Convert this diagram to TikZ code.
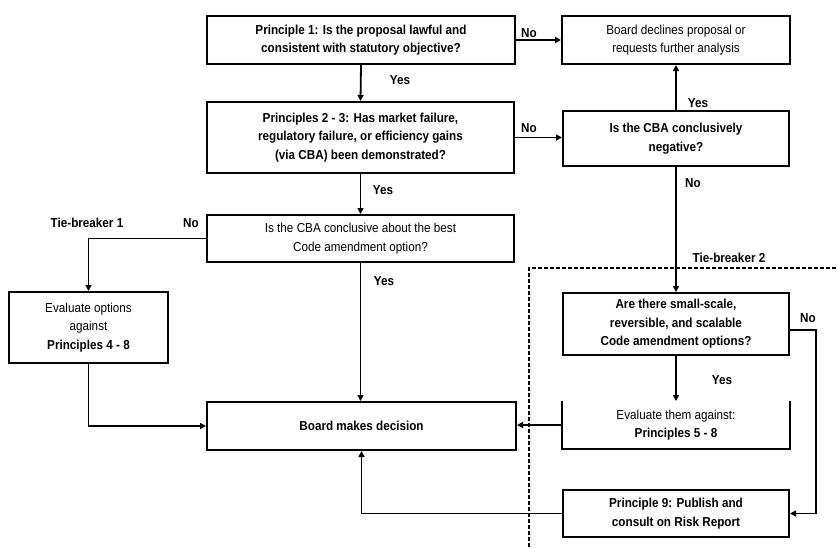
\documentclass[tikz,border=0pt]{standalone}
\usepackage{fontspec}
\setmainfont{Liberation Sans}[FakeStretch=0.9]
\usetikzlibrary{arrows.meta,calc}
\begin{document}
\begin{tikzpicture}[x=1pt,y=-1pt,
  box/.style={draw,line width=2pt,align=center,inner sep=0pt,font=\fontsize{13}{18.5}\selectfont},
  conn/.style={line width=1.8pt,-{Triangle[length=6pt,width=6pt]}},
  lbl/.style={font=\fontsize{13}{14}\selectfont\bfseries,inner sep=0pt}]
\useasboundingbox (0,0) rectangle (838,547);
% nodes
\node[box,minimum width=308pt,minimum height=48pt] (P1) at (361,40)
  {\bfseries Principle 1: Is the proposal lawful and\\ \bfseries consistent with statutory objective?};
\node[box,minimum width=228pt,minimum height=48pt] (BD) at (676,40)
  {Board declines proposal or\\requests further analysis};
\node[box,minimum width=307pt,minimum height=71pt] (P23) at (360.5,137.5)
  {\bfseries Principles 2 - 3: Has market failure,\\ \bfseries regulatory failure, or efficiency gains\\ \bfseries (via CBA) been demonstrated?};
\node[box,minimum width=226pt,minimum height=55pt] (CN) at (676,138.5)
  {\bfseries Is the CBA conclusively\\ \bfseries negative?};
\node[box,minimum width=307pt,minimum height=47pt] (CC) at (360.5,238.5)
  {Is the CBA conclusive about the best\\Code amendment option?};
\node[box,minimum width=159pt,minimum height=71pt] (EO) at (88.5,327.5)
  {Evaluate options\\against\\ \bfseries Principles 4 - 8};
\node[box,minimum width=309pt,minimum height=48pt] (BMD) at (361.5,426)
  {\bfseries Board makes decision};
\node[box,minimum width=226pt,minimum height=62pt] (SS) at (676,324)
  {\bfseries Are there small-scale,\\ \bfseries reversible, and scalable\\ \bfseries Code amendment options?};
\node[box,draw=none,minimum width=226pt,minimum height=46pt] (ET) at (676,425)
  {Evaluate them against:\\ \bfseries Principles 5 - 8};
\draw[line width=2pt] (ET.north west) -- (ET.south west) -- (ET.south east) -- (ET.north east);
\node[box,minimum width=226pt,minimum height=47pt] (P9) at (676,513.5)
  {\bfseries Principle 9: Publish and\\ \bfseries consult on Risk Report};
% dashed region
\coordinate (DB) at (529,547);
\coordinate (DC) at (529,268);
\coordinate (DR) at (838,268);
\draw[line width=1.6pt,dash pattern=on 4pt off 2pt] (DB) -- (DC) -- (DR);
% connectors
\draw[conn] (P1.south) -- (P23.north);
\draw[conn] (P1.east) -- (BD.west);
\draw[conn] (P23.east) -- (P23.east -| CN.west);
\draw[conn] (CN.north) -- (BD.south);
\draw[conn] (P23.south) -- (CC.north);
\draw[conn] (CN.south) -- (SS.north);
\draw[conn] (CC.west) -| (EO.north);
\draw[conn] (CC.south) -- (CC.south |- BMD.north);
\draw[conn] (EO.south) |- (BMD.west);
\draw[conn] (ET.west) -- (ET.west -| BMD.east);
\draw[conn] (SS.south) -- (ET.north);
\draw[conn] ($(SS.east)+(0,6)$) -- ++(26,0) |- (P9.east);
\draw[conn] (P9.west) -| (BMD.south);
% labels
\node[lbl] (l1) at (529,33) {No};
\node[lbl] (l2) at (400,80) {Yes};
\node[lbl] (l3) at (529,128) {No};
\node[lbl] (l4) at (698,103) {Yes};
\node[lbl] (l5) at (383,190) {Yes};
\node[lbl] (l6) at (693,183) {No};
\node[lbl] (l7) at (87,223) {Tie-breaker 1};
\node[lbl] (l8) at (191,223) {No};
\node[lbl] (l9) at (384,281) {Yes};
\node[lbl] (l10) at (729,258) {Tie-breaker 2};
\node[lbl] (l11) at (808,318) {No};
\node[lbl] (l12) at (722,380) {Yes};
\end{tikzpicture}
\end{document}
